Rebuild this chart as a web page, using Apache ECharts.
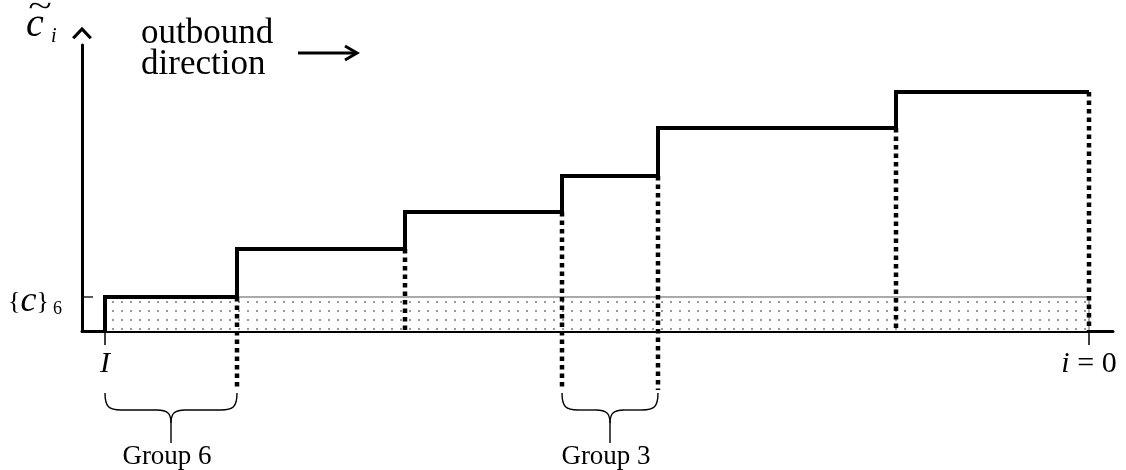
<!DOCTYPE html>
<html><head><meta charset="utf-8">
<script src="https://cdn.jsdelivr.net/npm/echarts@6/dist/echarts.min.js"></script>
<style>html,body{margin:0;padding:0;background:#fff}#c{width:1126px;height:470px}</style>
</head><body><div id="c"></div>
<script>
// ---- data ----
const boundaries = [23, 155, 323, 480, 576, 814, 1007];   // group boundaries, from I (left) to i = 0 (right)
const levels = [34, 82, 119, 155, 203, 239];              // step heights of the six groups (left to right)
const guideBottoms = [null, -59, 0, -59, -59, 0, 0];      // where each dotted guide ends (null: none)
const groupLabels = ['Group 6', 'Group 3'];
const groupSpans = [[0, 1], [3, 4]];
const xTickLabels = ['I', 'i = 0'];
const yTickLabel = '{c}6';
const yTitleMain = 'c', yTitleSub = 'i', yTitleAccent = '~';
const directionText = 'outbound\ndirection';

const SERIF = 'Liberation Serif';
const SERIF_Q = '"Liberation Serif", serif';

// dotted fill pattern
const pat = document.createElement('canvas');
pat.width = 9; pat.height = 9;
const pc = pat.getContext('2d');
pc.fillStyle = '#ffffff'; pc.fillRect(0, 0, 9, 9);
pc.fillStyle = '#999999'; pc.fillRect(4, 4, 2, 2);

const chart = echarts.init(document.getElementById('c'), null, {renderer: 'canvas'});

const stepData = [[boundaries[0], 0]];
levels.forEach((lv, i) => { stepData.push([boundaries[i], lv]); stepData.push([boundaries[i + 1], lv]); });

const series = [];
series.push({
  type: 'line', data: [[boundaries[0], levels[0]], [boundaries[boundaries.length - 1], levels[0]], [boundaries[boundaries.length - 1], 0]],
  symbol: 'none', silent: true, z: 1,
  lineStyle: {color: '#555', width: 1},
  areaStyle: {color: {image: pat, repeat: 'repeat'}, opacity: 1}
});
boundaries.forEach((b, i) => {
  if (guideBottoms[i] === null) return;
  series.push({
    type: 'line', data: [[b, levels[i - 1]], [b, guideBottoms[i]]], symbol: 'none', clip: false, silent: true, z: 3,
    lineStyle: {color: '#000', width: 4.5, type: [4.5, 4], cap: 'butt'}
  });
});
series.push({
  type: 'line', data: [[-12, levels[0]], [11, levels[0]]], symbol: 'none', clip: false, silent: true, z: 3,
  lineStyle: {color: '#000', width: 1.3}
});
series.push({
  type: 'line', data: stepData, symbol: 'none', silent: true, z: 5,
  lineStyle: {color: '#000', width: 4, join: 'miter', cap: 'butt'}
});

function italicFirst(s) { return s.replace(/^([A-Za-z])/, '{it|$1}'); }
function yLabelRich(s) {
  const m = s.match(/^\{(\w)\}(\w)$/);
  return '{{it|' + m[1] + '}}{sub|' + m[2] + '}';
}

const option = {
  animation: false,
  backgroundColor: '#fff',
  grid: {left: 82, right: 13, top: 45, bottom: 139, containLabel: false, outerBoundsMode: 'none'},
  xAxis: {
    type: 'value', min: 0, max: 1031,
    axisLine: {show: true, onZero: false, lineStyle: {color: '#000', width: 3}},
    axisTick: {show: true, customValues: [boundaries[0], boundaries[boundaries.length - 1]], length: 14, lineStyle: {color: '#000', width: 1.5}},
    axisLabel: {
      customValues: [boundaries[0], boundaries[boundaries.length - 1]], margin: 18,
      fontFamily: SERIF, fontSize: 30, color: '#000',
      formatter: v => italicFirst(v === boundaries[0] ? xTickLabels[0] : xTickLabels[1]),
      rich: {it: {fontFamily: SERIF, fontStyle: 'italic', fontSize: 30, color: '#000'}}
    },
    splitLine: {show: false}
  },
  yAxis: {
    type: 'value', min: 0, max: 286,
    axisLine: {show: true, onZero: false, lineStyle: {color: '#000', width: 3},
      symbol: ['none', 'path://M10,0 L20,10.5 L17.6,12.5 L10,4.6 L2.4,12.5 L0,10.5 Z'], symbolSize: [20, 12.5], symbolOffset: [0, 12]},
    axisTick: {show: false},
    axisLabel: {
      customValues: [levels[0]], margin: 20, padding: [10, 0, 0, 0],
      fontFamily: SERIF, fontSize: 26, color: '#000',
      formatter: () => yLabelRich(yTickLabel),
      rich: {
        it: {fontFamily: SERIF, fontStyle: 'italic', fontSize: 36, color: '#000'},
        sub: {fontFamily: SERIF, fontSize: 18, color: '#000', padding: [14, 0, 0, 4]}
      }
    },
    splitLine: {show: false}
  },
  series: series
};
chart.setOption(option);

const graphics = [];
const braceStyle = {stroke: '#000', lineWidth: 1.4, fill: null};
function addBrace(x0, x1, y0) {
  const xc = (x0 + x1) / 2, yh = y0 + 17, yt = y0 + 30, ys = y0 + 50;
  graphics.push({type: 'bezierCurve', shape: {x1: x0, y1: y0, cpx1: x0, cpy1: yh - 3, cpx2: x0 + 4, cpy2: yh, x2: x0 + 16, y2: yh}, style: braceStyle});
  graphics.push({type: 'line', shape: {x1: x0 + 16, y1: yh, x2: xc - 14, y2: yh}, style: braceStyle});
  graphics.push({type: 'bezierCurve', shape: {x1: xc - 14, y1: yh, cpx1: xc - 4, cpy1: yh, cpx2: xc, cpy2: yh + 3, x2: xc, y2: yt}, style: braceStyle});
  graphics.push({type: 'bezierCurve', shape: {x1: xc, y1: yt, cpx1: xc, cpy1: yh + 3, cpx2: xc + 4, cpy2: yh, x2: xc + 14, y2: yh}, style: braceStyle});
  graphics.push({type: 'line', shape: {x1: xc + 14, y1: yh, x2: x1 - 16, y2: yh}, style: braceStyle});
  graphics.push({type: 'bezierCurve', shape: {x1: x1 - 16, y1: yh, cpx1: x1 - 4, cpy1: yh, cpx2: x1, cpy2: yh - 3, x2: x1, y2: y0}, style: braceStyle});
  graphics.push({type: 'line', shape: {x1: xc, y1: yt, x2: xc, y2: ys}, style: braceStyle});
}
groupSpans.forEach((sp, k) => {
  const p0 = chart.convertToPixel({gridIndex: 0}, [boundaries[sp[0]], -59]);
  const p1 = chart.convertToPixel({gridIndex: 0}, [boundaries[sp[1]], -59]);
  const y0 = p0[1] + 3;
  addBrace(p0[0], p1[0], y0);
  graphics.push({type: 'text', x: (p0[0] + p1[0]) / 2 - 4, y: y0 + 64,
    style: {text: groupLabels[k], font: '27px ' + SERIF_Q, fill: '#000', align: 'center', verticalAlign: 'middle'}});
});
graphics.push({type: 'text', x: 26, y: 25, style: {text: yTitleMain, font: 'italic 40px ' + SERIF_Q, fill: '#000', align: 'left', verticalAlign: 'middle'}});
graphics.push({type: 'text', x: 40, y: 8, scaleX: 1.45, style: {text: yTitleAccent, font: '30px ' + SERIF_Q, fill: '#000', align: 'center', verticalAlign: 'middle'}});
graphics.push({type: 'text', x: 51, y: 37, style: {text: yTitleSub, font: 'italic 20px ' + SERIF_Q, fill: '#000', align: 'left', verticalAlign: 'middle'}});
graphics.push({type: 'text', x: 141, y: 18, style: {text: directionText, font: '35px ' + SERIF_Q, lineHeight: 31, fill: '#000', align: 'left', verticalAlign: 'top'}});
graphics.push({type: 'line', shape: {x1: 298, y1: 53, x2: 355, y2: 53}, style: {stroke: '#000', lineWidth: 3}});
graphics.push({type: 'polyline', shape: {points: [[345, 46], [357, 53], [345, 60]]}, style: {stroke: '#000', lineWidth: 3, fill: null}});

chart.setOption({graphic: {elements: graphics}});
</script>
</body></html>
